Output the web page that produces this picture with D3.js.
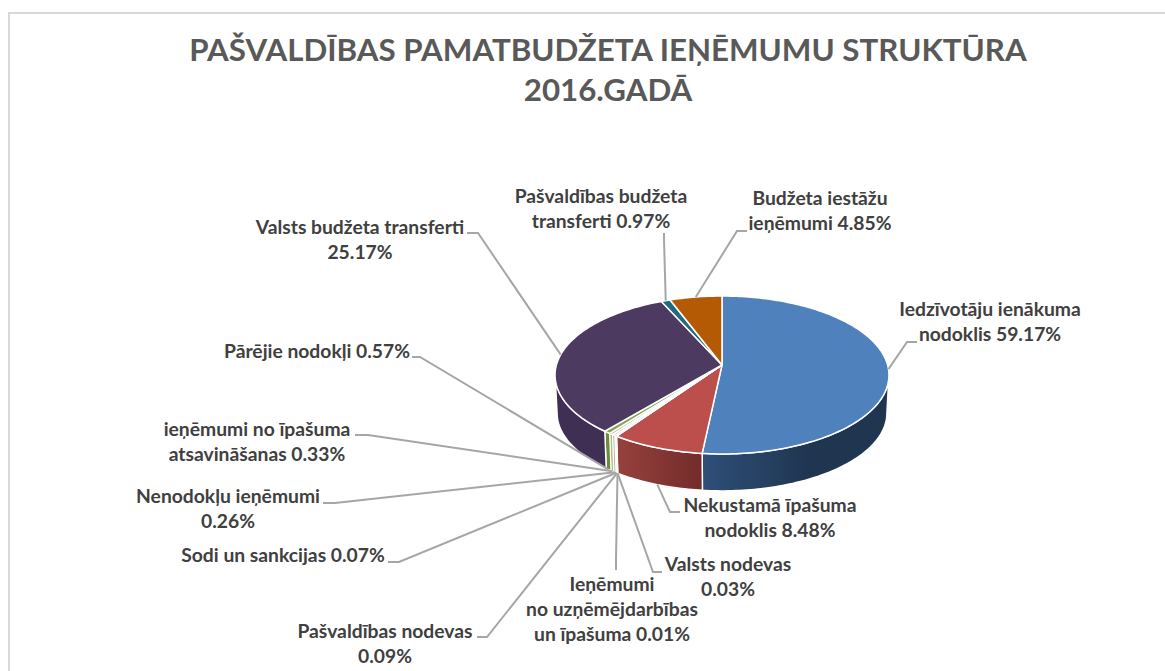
<!DOCTYPE html>
<html lang="lv">
<head>
<meta charset="UTF-8">
<title>Pašvaldības pamatbudžeta ieņēmumu struktūra</title>
<script src="https://d3js.org/d3.v7.min.js"></script>
<style>
    html, body { margin: 0; padding: 0; background: #fff; overflow: hidden; }
    text { font-family: Lato, "Open Sans", sans-serif; font-weight: 700; }
    .title { font-size: 31.3px; fill: #595959; text-anchor: middle; }
    .label { font-size: 19.3px; fill: #404040; text-anchor: middle; }
    .leader { fill: none; stroke: #a6a6a6; stroke-width: 2px; }
</style>
</head>
<body>
<div id="chart"></div>
<script>
// Teksts uz etiketēm (rindu pārnesumi kā oriģinālā)
const titleLines = ["PAŠVALDĪBAS PAMATBUDŽETA IEŅĒMUMU STRUKTŪRA", "2016.GADĀ"];
const categories = [
    "Iedzīvotāju ienākuma\nnodoklis ",
    "Nekustamā īpašuma\nnodoklis ",
    "Valsts nodevas\n",
    "Ieņēmumi\nno uzņēmējdarbības\nun īpašuma ",
    "Pašvaldības nodevas\n",
    "Sodi un sankcijas ",
    "Nenodokļu ieņēmumi\n",
    "ieņēmumi no īpašuma\natsavināšanas ",
    "Pārējie nodokļi ",
    "Valsts budžeta transferti\n",
    "Pašvaldības budžeta\ntransferti ",
    "Budžeta iestāžu\nieņēmumi "
];
// procenti, kas rakstīti etiķetēs
const labelPercents = [59.17, 8.48, 0.03, 0.01, 0.09, 0.07, 0.26, 0.33, 0.57, 25.17, 0.97, 4.85];
// šķēļu platums, kā tās redzamas attēlā (neatbilst etiķetēm lielajām šķēlēm)
const drawnShares = [51.7, 8.0, 0.03, 0.01, 0.09, 0.07, 0.26, 0.33, 0.57, 32.3, 1.0, 5.7];

const topColors = ["#4f81bd", "#bc4f4b", "#c4d6a0", "#e6d8e6", "#cfe0e8", "#f6dcc0", "#d9b8b6", "#c0cc9a", "#8aa356", "#4d3a60", "#1f6b7f", "#b45a04"];
const wallColors = [["#2e4f78", "#1f3550"], ["#96413d", "#732c2a"], ["#c4d6a0", "#c4d6a0"], ["#e6d8e6", "#e6d8e6"], ["#cfe0e8", "#cfe0e8"], ["#f6dcc0", "#f6dcc0"], ["#c9a3a1", "#c9a3a1"], ["#a9c47a", "#a9c47a"], ["#6f8a3c", "#6f8a3c"], ["#3f2f55", "#3f2f55"], ["#174f5f", "#174f5f"], ["#86430a", "#86430a"]];

// etiķešu novietojums: teksta centrs, pirmās rindas bāzlīnija, līnijas gals un lūzums
const placement = [
    { x: 990, y: 316, stub: [917, 342], elbow: [907, 342] },
    { x: 770, y: 512, stub: [680, 512], elbow: [670, 512] },
    { x: 728, y: 571, stub: [662, 572], elbow: [653, 572] },
    { x: 612, y: 591, stub: [616, 570], elbow: [616, 560] },
    { x: 385, y: 638, stub: [477, 637], elbow: [487, 637] },
    { x: 283, y: 562, stub: [388, 562], elbow: [399, 562] },
    { x: 228, y: 503, stub: [323, 503], elbow: [335, 503] },
    { x: 257, y: 436, stub: [355, 435], elbow: [368, 435] },
    { x: 317, y: 358, stub: [412, 357], elbow: [420, 357] },
    { x: 360, y: 234, stub: [467, 233], elbow: [478, 233] },
    { x: 601, y: 203, stub: [664, 233], elbow: [664, 240] },
    { x: 820, y: 205, stub: [747, 231], elbow: [737, 231] }
];

const width = 1165, height = 671;
const lineGap = 25;

const svg = d3.select("#chart").append("svg")
    .attr("width", width)
    .attr("height", height);

// rāmis
svg.append("path")
    .attr("d", d3.line()([[1165, 13], [9, 13], [9, 671]]))
    .attr("fill", "none")
    .attr("stroke", "#d9d9d9")
    .attr("stroke-width", 2);

svg.selectAll(".title")
    .data(titleLines)
    .enter()
    .append("text")
    .attr("class", "title")
    .attr("x", 608)
    .attr("y", (d, i) => 61 + i * 40)
    .text(d => d);

// Perspektīva: aplis -> elipse, tuvākā mala ir lielāka
const cx = 722, cy = 365, rx = 165.6, ry = 77.7, persp = 0.1266;
const depth = 38, baseScale = 0.988;

function project(angle, r, isBase) {
    const u = Math.sin(angle) * r, v = -Math.cos(angle) * r;
    const s = 1 / (1 - persp * v);
    const k = isBase ? baseScale : 1;
    return [cx + rx * u * s * k, cy + (isBase ? depth : 0) + ry * v * s * k];
}

const pieData = d3.pie().sort(null).value(d => d)(drawnShares);
const line = d3.line();

function arcPoints(a0, a1, isBase) {
    const n = Math.max(2, Math.ceil((a1 - a0) / 0.02));
    return d3.range(n + 1).map(i => project(a0 + (a1 - a0) * i / n, 1, isBase));
}

// sānu siena redzama tikai priekšējā daļā
const wallFrom = Math.PI - Math.acos(persp);
const wallTo = Math.PI + Math.acos(persp);

const defs = svg.append("defs");
const walls = svg.append("g");

pieData.forEach((d, i) => {
    const a0 = Math.max(d.startAngle, wallFrom), a1 = Math.min(d.endAngle, wallTo);
    if (a1 <= a0) return;
    const top = arcPoints(a0, a1, false), base = arcPoints(a0, a1, true);
    const xs = top.map(p => p[0]);
    const grad = defs.append("linearGradient")
        .attr("id", "wall" + i)
        .attr("gradientUnits", "userSpaceOnUse")
        .attr("x1", d3.min(xs)).attr("x2", i === 0 ? d3.min(xs) + 110 : d3.max(xs))
        .attr("y1", 0).attr("y2", 0);
    grad.append("stop").attr("offset", 0).attr("stop-color", wallColors[i][0]);
    grad.append("stop").attr("offset", 1).attr("stop-color", wallColors[i][1]);
    walls.append("path")
        .attr("d", line(top.concat(base.reverse())) + "Z")
        .attr("fill", "url(#wall" + i + ")")
        .attr("stroke", "#fff")
        .attr("stroke-width", i > 1 && i < 9 ? 1.2 : 1.5);
});

// augšējā virsma
svg.append("g").selectAll("path")
    .data(pieData)
    .enter()
    .append("path")
    .attr("d", d => line([[cx, cy]].concat(arcPoints(d.startAngle, d.endAngle, false))) + "Z")
    .attr("fill", (d, i) => topColors[i])
    .attr("stroke", "#fff")
    .attr("stroke-width", (d, i) => i > 1 && i < 9 ? 1.4 : 1.5)
    .attr("stroke-linejoin", "round");

// vadlīnijas: no šķēles vidus uz etiķeti
svg.append("g").selectAll("path")
    .data(pieData)
    .enter()
    .append("path")
    .attr("class", "leader")
    .attr("d", (d, i) => {
        const mid = (d.startAngle + d.endAngle) / 2;
        const onWall = mid > wallFrom && mid < wallTo;
        return line([project(mid, 1, onWall), placement[i].elbow, placement[i].stub]);
    });

// etiķetes
svg.append("g").selectAll("text")
    .data(categories)
    .enter()
    .append("text")
    .attr("class", "label")
    .attr("x", (d, i) => placement[i].x)
    .attr("y", (d, i) => placement[i].y)
    .each(function (d, i) {
        const rows = (d + labelPercents[i].toFixed(2) + "%").split("\n");
        d3.select(this).selectAll("tspan")
            .data(rows)
            .enter()
            .append("tspan")
            .attr("x", placement[i].x)
            .attr("dy", (r, j) => j ? lineGap : 0)
            .text(r => r);
    });
</script>
</body>
</html>
